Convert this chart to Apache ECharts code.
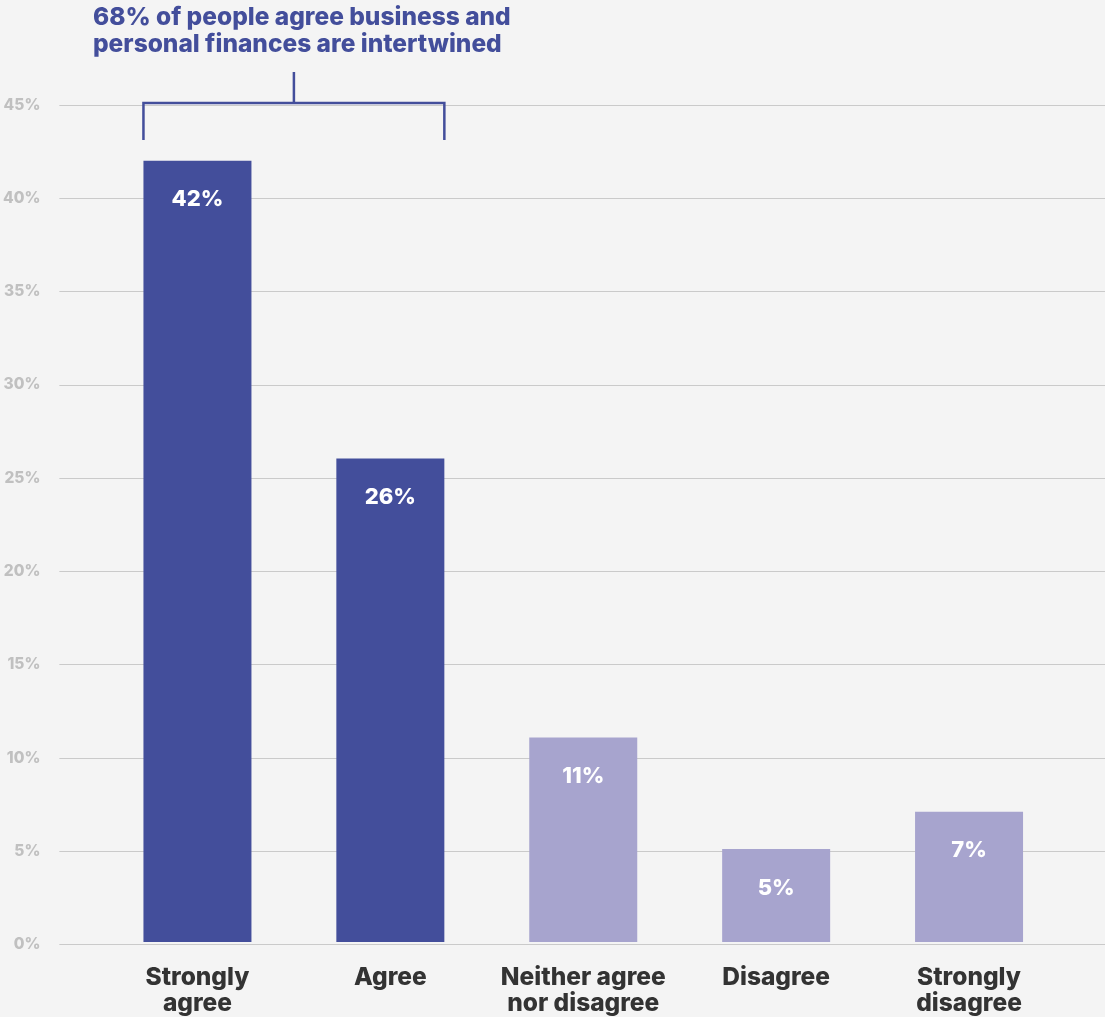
<!DOCTYPE html>
<html>
<head>
<meta charset="utf-8">
<title>Business and personal finances</title>
<script src="https://cdn.jsdelivr.net/npm/echarts@6/dist/echarts.min.js"></script>
<style>
  html, body { margin: 0; padding: 0; background: #f4f4f4; }
  #chart { width: 1105px; height: 1017px; }
</style>
</head>
<body>
<div id="chart"></div>
<script>
// Survey answers and the share of respondents (%) giving each one
const categories = ['Strongly\nagree', 'Agree', 'Neither agree\nnor disagree', 'Disagree', 'Strongly\ndisagree'];
const shares = [42, 26, 11, 5, 7];
const agreeingCount = 2; // the first two answers form the "agree" group
const headline = '68% of people agree business and\npersonal finances are intertwined';

const DARK = '#434e9b';
const LIGHT = '#a7a4ce';
const FONT = 'Inter, "Noto Sans", sans-serif';

const chart = echarts.init(document.getElementById('chart'), null, { renderer: 'canvas' });

const option = {
  backgroundColor: '#f4f4f4',
  animation: false,
  title: {
    text: headline,
    left: 88,
    top: -1,
    textStyle: {
      fontFamily: FONT,
      fontSize: 24.5,
      fontWeight: 800,
      color: DARK,
      lineHeight: 27
    }
  },
  grid: [
    // wide grid: carries the gridlines and percentage labels
    { left: 59, right: 0, top: 105, bottom: 72.5 },
    // narrower grid: carries the bars and answer labels
    { left: 101, right: 39.5, top: 105, bottom: 72.5 }
  ],
  xAxis: [
    { gridIndex: 0, type: 'value', show: false, min: 0, max: 1 },
    {
      gridIndex: 1,
      type: 'category',
      data: categories,
      axisLine: { show: false },
      axisTick: { show: false },
      axisLabel: {
        interval: 0,
        margin: 23,
        fontFamily: FONT,
        fontSize: 24.5,
        fontWeight: 800,
        color: '#333333',
        lineHeight: 26,
        verticalAlign: 'top'
      }
    }
  ],
  yAxis: [
    {
      gridIndex: 0,
      type: 'value',
      min: 0,
      max: 45,
      interval: 5,
      axisLine: { show: false },
      axisTick: { show: false },
      axisLabel: {
        margin: 19,
        formatter: '{value}%',
        fontFamily: FONT,
        fontSize: 15.5,
        fontWeight: 800,
        color: '#c0c0c0'
      },
      splitLine: { lineStyle: { color: '#cacaca', width: 1.2 } }
    },
    { gridIndex: 1, type: 'value', min: 0, max: 45, interval: 5, show: false, splitLine: { show: false } }
  ],
  series: [
    {
      type: 'bar',
      xAxisIndex: 1,
      yAxisIndex: 1,
      barWidth: 108,
      data: shares,
      itemStyle: {
        color: (p) => (p.dataIndex < agreeingCount ? DARK : LIGHT)
      },
      label: {
        show: true,
        position: 'insideTop',
        distance: 28,
        formatter: '{c}%',
        fontFamily: FONT,
        fontSize: 22,
        fontWeight: 800,
        color: '#ffffff'
      }
    }
  ]
};

chart.setOption(option);

// Bracket grouping the two "agree" bars, placed from the axes' own scales
function drawBracket() {
  const half = 54;
  const left = chart.convertToPixel({ xAxisIndex: 1 }, 0) - half;
  const right = chart.convertToPixel({ xAxisIndex: 1 }, agreeingCount - 1) + half;
  const top = chart.convertToPixel({ yAxisIndex: 1 }, 45);
  const barY = top - 2;
  const legBottom = barY + 37;
  const stemTop = barY - 31;
  const mid = (left + right) / 2;
  const style = { stroke: DARK, lineWidth: 2.5, fill: null };
  chart.setOption({
    graphic: [
      { type: 'polyline', shape: { points: [[left, legBottom], [left, barY], [right, barY], [right, legBottom]] }, style },
      { type: 'line', shape: { x1: mid, y1: barY, x2: mid, y2: stemTop }, style }
    ]
  });
}
drawBracket();
</script>
</body>
</html>
